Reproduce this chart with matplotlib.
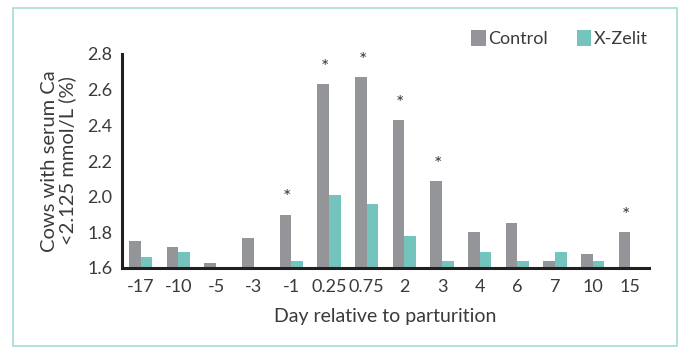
import numpy as np
import matplotlib.pyplot as plt
from matplotlib.patches import Rectangle

plt.rcParams['font.family'] = ['Lato', 'DejaVu Sans']

days = ['-17', '-10', '-5', '-3', '-1', '0.25', '0.75', '2', '3', '4', '6', '7', '10', '15']
control = [1.75, 1.72, 1.63, 1.77, 1.90, 2.63, 2.67, 2.43, 2.09, 1.80, 1.85, 1.64, 1.68, 1.80]
xzelit = [1.66, 1.69, np.nan, np.nan, 1.64, 2.01, 1.96, 1.78, 1.64, 1.69, 1.64, 1.69, 1.64, np.nan]
signif = [False, False, False, False, True, True, True, True, True, False, False, False, False, True]

gray = '#939598'
teal = '#74c3bd'
txt = '#3a3a3a'
base = 1.6

fig = plt.figure(figsize=(6.8, 3.47), dpi=100)
fig.patches.append(Rectangle((13/680, 1/347), 664/680, 338/347, transform=fig.transFigure,
                             fill=False, edgecolor='#a6dcd6', linewidth=1.2))
ax = fig.add_axes([122/680, 1-268/347, 527/680, 214/347])

x = np.arange(len(days))
w = 0.31
ctl = np.array(control) - base
xz = np.array(xzelit) - base
ax.bar(x - w/2, ctl, w, bottom=base, color=gray, label='Control')
ax.bar(x + w/2, xz, w, bottom=base, color=teal, label='X-Zelit')

for i, s in enumerate(signif):
    if s:
        ax.text(x[i] - w/2 + 0.05, control[i] + 0.045, '*', ha='center', va='bottom',
                fontsize=14, color=txt)

ax.set_xlim(-0.5, len(days) - 0.5)
ax.set_ylim(base, 2.8)
ax.set_yticks([1.6, 1.8, 2.0, 2.2, 2.4, 2.6, 2.8])
ax.set_yticklabels(['1.6', '1.8', '2.0', '2.2', '2.4', '2.6', '2.8'])
ax.set_xticks(x)
ax.set_xticklabels(days)
ax.tick_params(length=0, labelsize=13, colors=txt, pad=8)
ax.tick_params(axis='y', pad=7)
for s in ['top', 'right']:
    ax.spines[s].set_visible(False)
for s in ['left', 'bottom']:
    ax.spines[s].set_linewidth(2.2)
    ax.spines[s].set_color('#231f20')

ax.set_xlabel('Day relative to parturition', fontsize=14, color=txt, labelpad=9)
ax.set_ylabel('Cows with serum Ca\n<2.125 mmol/L (%)', fontsize=14.5, color=txt,
              labelpad=8, linespacing=1.0)

ax.legend(loc='upper right', bbox_to_anchor=(648/680, 1-30/347), bbox_transform=fig.transFigure,
          ncol=2, frameon=False, handlelength=0.8, handleheight=1.0, handletextpad=0.15,
          columnspacing=1.6, fontsize=13, labelcolor=txt, borderaxespad=0, borderpad=0)

fig.savefig('out.png', dpi=100)
